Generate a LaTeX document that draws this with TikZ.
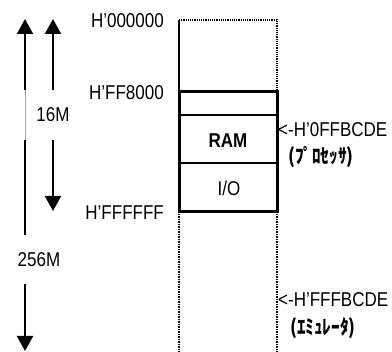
\documentclass[tikz,border=0pt]{standalone}
\usepackage{fontspec}
\setmainfont[FakeStretch=0.85]{Liberation Sans}
\newfontfamily\jpfont[FakeStretch=0.86]{Noto Sans CJK JP}
\usetikzlibrary{arrows.meta}
\begin{document}
\begin{tikzpicture}[x=1pt,y=-1pt,
  lbl/.style={inner sep=0pt,font=\fontsize{20}{24}\selectfont},
  arr/.style={line width=2pt,-{Triangle[width=16pt,length=15pt]}},
  thinln/.style={line width=1.2pt},
  dotln/.style={line width=1.5pt,densely dotted},
]
\useasboundingbox (0,0) rectangle (392,352);
% memory map
\draw[thinln] (179,20) -- (179,92);
\draw[line width=1.2pt,densely dotted] (179,20) -- (277,20) -- (277,92);
\draw[thinln] (179,115) -- (277,115);
\draw[thinln] (179,163) -- (277,163);
\draw[line width=3pt] (179,92) rectangle (277,212);
\draw[dotln] (179,214) -- (179,352);
\draw[dotln] (277,214) -- (277,352);
% labels
\node[lbl,anchor=east] (a0) at (164,21) {H’000000};
\node[lbl,anchor=east] (a1) at (164,93) {H’FF8000};
\node[lbl,anchor=east] (a2) at (164,213) {H’FFFFFF};
\node[lbl,font=\fontsize{20}{24}\selectfont\bfseries] (ram) at (228,141) {RAM};
\node[lbl] (io) at (229,188) {I/O};
\node[lbl,anchor=west] (p1) at (278,130) {<-H’0FFBCDE};
\node[lbl,anchor=west] (p2) at (288,157) {\jpfont\bfseries (ﾌﾟﾛｾｯｻ)};
\node[lbl,anchor=west] (e1) at (278,300) {<-H’FFFBCDE};
\node[lbl,anchor=west] (e2) at (290,328) {\jpfont\bfseries (ｴﾐｭﾚｰﾀ)};
% arrows
\node[lbl,minimum height=50pt] (m16) at (53,115) {16M};
\node[lbl,minimum height=49pt] (m256) at (39,260) {256M};
\coordinate (t16a) at (53,19);
\coordinate (t16b) at (53,211);
\coordinate (t256a) at (25,19);
\coordinate (t256b) at (25,351);
\coordinate (g1) at (25,90);
\coordinate (g2) at (25,140);
\coordinate (g3) at (25,235);
\coordinate (g4) at (25,284);
\draw[arr] (m16.north) -- (t16a);
\draw[arr] (m16.south) -- (t16b);
\draw[arr] (g1) -- (t256a);
\draw[line width=0.6pt,black!35] (g1) -- (g2);
\draw[line width=2pt] (g2) -- (g3);
\draw[arr] (g4) -- (t256b);
\end{tikzpicture}
\end{document}
